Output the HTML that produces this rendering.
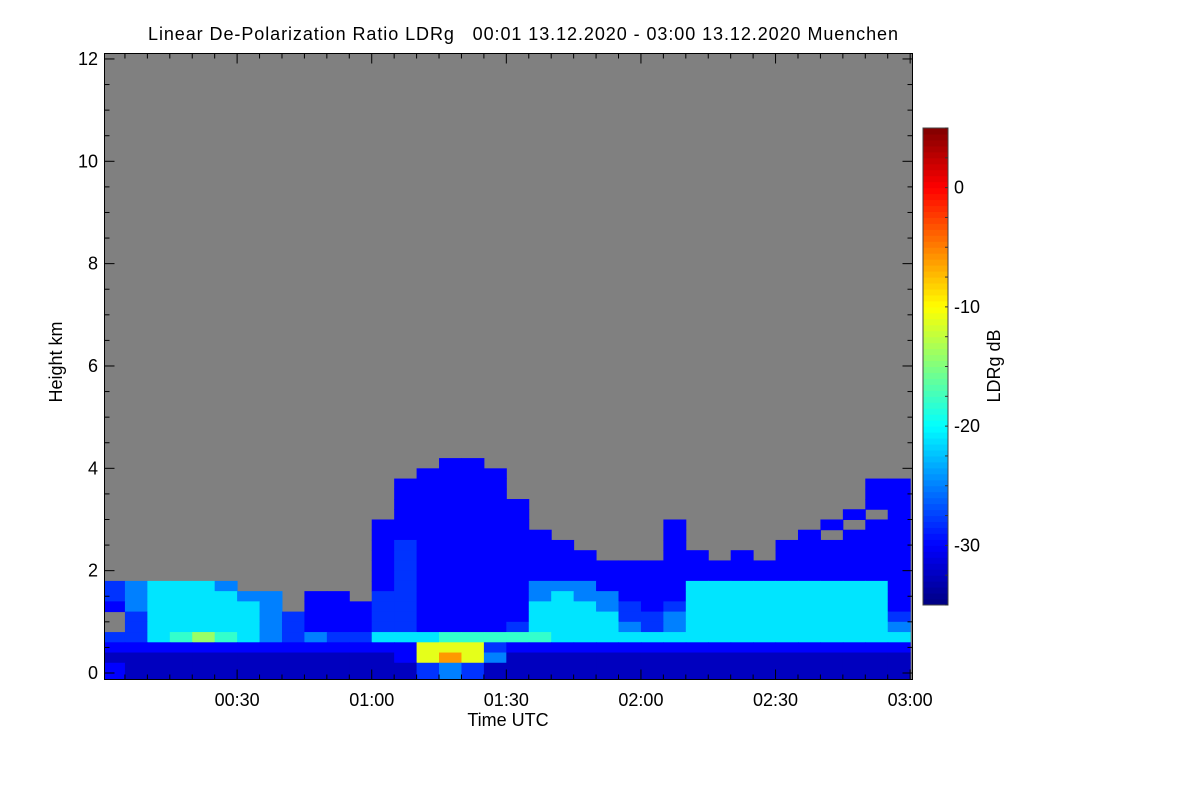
<!DOCTYPE html>
<html><head><meta charset="utf-8"><style>
body{margin:0;background:#fff;width:1200px;height:800px;overflow:hidden}
svg text{font-family:"Liberation Sans",sans-serif;fill:#000}
</style></head><body>
<svg id="chart" width="1200" height="800">
<text x="148" y="40" font-size="18" textLength="750" lengthAdjust="spacing" xml:space="preserve" style="white-space:pre">Linear De-Polarization Ratio LDRg   00:01 13.12.2020 - 03:00 13.12.2020 Muenchen</text>
<rect x="104.5" y="53.5" width="808" height="626" fill="#808080"/>
<g id="cells"></g>
<g id="axes"></g>
<text x="62" y="362" font-size="18" text-anchor="middle" transform="rotate(-90 62 362)">Height km</text>
<text x="508" y="726" font-size="18" text-anchor="middle">Time UTC</text>
<g id="cbar"></g>
<text x="1000" y="366" font-size="18" text-anchor="middle" transform="rotate(-90 1000 366)">LDRg dB</text>
</svg>
<script>
// time columns: 5-minute bins 00:00..03:00 (36), height rows 0.2 km from 4.2 down to 0
const timeStart = 0.45, timeEnd = 180.5, binMinutes = 5;
const rowTops = [4.2,4.0,3.8,3.6,3.4,3.2,3.0,2.8,2.6,2.4,2.2,2.0,1.8,1.6,1.4,1.2,1.0,0.8,0.6,0.4,0.2];
const levelCodes = "abcdefghij";
const levelValues = [-32.5,-30,-28,-25,-21,-18,-14,-11,-6,-2];
const ldrRows = [
"...... ...... ...bb. ...... ...... ......",
"...... ...... ..bbbb ...... ...... ......",
"...... ...... .bbbbb ...... ...... ....bb",
"...... ...... .bbbbb ...... ...... ....bb",
"...... ...... .bbbbb b..... ...... ....bb",
"...... ...... .bbbbb b..... ...... ...b.b",
"...... ...... bbbbbb b..... .b.... ..b.bb",
"...... ...... bbbbbb bb.... .b.... .b.bbb",
"...... ...... bcbbbb bbb... .b.... bbbbbb",
"...... ...... bcbbbb bbbb.. .bb.b. bbbbbb",
"...... ...... bcbbbb bbbbbb bbbbbb bbbbbb",
"...... ...... bcbbbb bbbbbb bbbbbb bbbbbb",
"cdeeed ...... bcbbbb bdddbb bbeeee eeeeeb",
"cdeeee dd.bb. ccbbbb bdeddb bbeeee eeeeeb",
"bdeeee ed.bbb ccbbbb beeedc bceeee eeeeeb",
".ceeee edcbbb ccbbbb beeeec cdeeee eeeeec",
".ceeee edcbbb ccbbbb ceeeed cdeeee eeeeed",
"ccefgf edcdcc eeefff ffeeee eeeeee eeeeee",
"bbbbbb bbbbbb bbhhhc bbbbbb bbbbbb bbbbbb",
"aaaaaa aaaaaa abhihd aaaaaa aaaaaa aaaaaa",
"baaaaa aaaaaa aacdca aaaaaa aaaaaa aaaaaa"
];
const yTicks = [0,2,4,6,8,10,12];
const xTickMinutes = [30,60,90,120,150,180];
const xTickLabels = ["00:30","01:00","01:30","02:00","02:30","03:00"];
const cbTicks = [0,-10,-20,-30];
const cbMin = -35, cbMax = 5;

const NS="http://www.w3.org/2000/svg";
const X = m => 102.5 + m*4.487;
const Y = h => 673 - h*51.17;
const plotL=104.5, plotR=912.5, plotT=53.5, plotB=679.5;
function jet(v){
  let t=(v-cbMin)/(cbMax-cbMin); t=Math.max(0,Math.min(1,t));
  const c=x=>Math.round(255*Math.max(0,Math.min(1,x)));
  const r=c(Math.min(4*t-1.5,-4*t+4.5)), g=c(Math.min(4*t-0.5,-4*t+3.5)), b=c(Math.min(4*t+0.5,-4*t+2.5));
  return `rgb(${r},${g},${b})`;
}
function mk(tag,attrs,parent){const e=document.createElementNS(NS,tag);for(const k in attrs)e.setAttribute(k,attrs[k]);parent.appendChild(e);return e;}
const cells=document.getElementById('cells');
ldrRows.forEach((row,r)=>{
  const codes=row.replace(/ /g,'');
  for(let i=0;i<codes.length;i++){
    const k=levelCodes.indexOf(codes[i]); if(k<0) continue;
    const t0=Math.max(i*binMinutes,timeStart), t1=Math.min((i+1)*binMinutes,timeEnd);
    const hTop=rowTops[r], hBot=hTop-0.2;
    const yb = hBot<=0.01 ? plotB : Y(hBot);
    const el=mk('rect',{x:X(t0),y:Y(hTop),width:X(t1)-X(t0)+0.5,height:yb-Y(hTop)+0.5,fill:jet(levelValues[k])},cells);
    
    
  }
});
const axes=document.getElementById('axes');
mk('rect',{x:plotL,y:plotT,width:plotR-plotL,height:plotB-plotT,fill:'none',stroke:'#000','stroke-width':1},axes);
for(let h=0;h<=12;h+=0.5){
  const y=Y(h), len=(h%2===0)?10:5;
  mk('line',{x1:plotL,x2:plotL+len,y1:y,y2:y,stroke:'#000'},axes);
  mk('line',{x1:plotR,x2:plotR-len,y1:y,y2:y,stroke:'#000'},axes);
}
yTicks.forEach(v=>{
  const t=mk('text',{x:98,y:Y(v)+6,'font-size':18,'text-anchor':'end'},axes);t.textContent=v;
  
  
});
for(let m=5;m<=180;m+=5){
  const x=X(m), len=(m%30===0)?10:5;
  mk('line',{x1:x,x2:x,y1:plotB,y2:plotB-len,stroke:'#000'},axes);
  mk('line',{x1:x,x2:x,y1:plotT,y2:plotT+len,stroke:'#000'},axes);
}
xTickMinutes.forEach((m,i)=>{
  const t=mk('text',{x:X(m),y:706,'font-size':18,'text-anchor':'middle'},axes);t.textContent=xTickLabels[i];
  
  
});
const cbar=document.getElementById('cbar');
const cbT=128, cbB=605, cbX=923, cbW=25;
const CY=v=>cbB-(v-cbMin)/(cbMax-cbMin)*(cbB-cbT);
for(let v=cbMin;v<cbMax;v+=0.5){
  mk('rect',{x:cbX,y:CY(v+0.5),width:cbW,height:CY(v)-CY(v+0.5)+0.5,fill:jet(v+0.25)},cbar);
}
mk('rect',{x:cbX,y:cbT,width:cbW,height:cbB-cbT,fill:'none',stroke:'#444'},cbar);
for(let v=-35;v<=5;v+=2.5){mk('line',{x1:cbX+cbW,x2:cbX+cbW-3,y1:CY(v),y2:CY(v),stroke:'#333'},cbar);}
cbTicks.forEach(v=>{
  const t=mk('text',{x:954,y:CY(v)+6,'font-size':18},cbar);t.textContent=v;
  
  
});
</script>
</body></html>
